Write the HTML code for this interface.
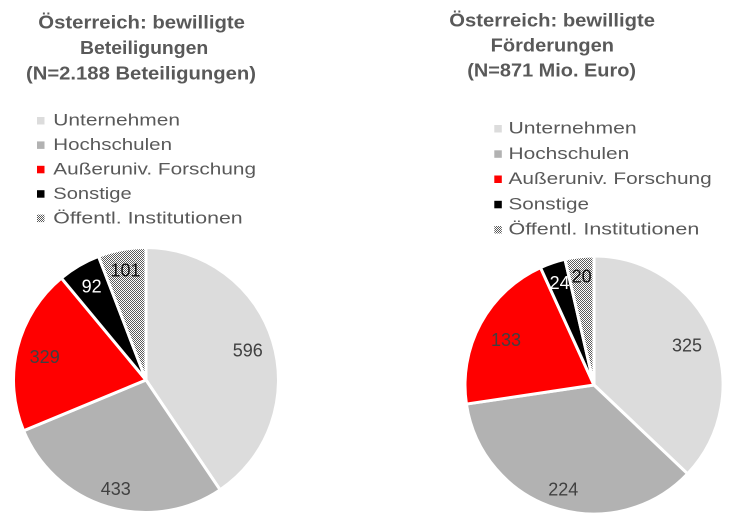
<!DOCTYPE html>
<html>
<head>
<meta charset="utf-8">
<style>
  html, body { margin: 0; padding: 0; background: #ffffff; }
  svg { display: block; }
  .t { font-family: "Liberation Sans", Arial, sans-serif; font-weight: bold; font-size: 18px; fill: #595959; }
  .l { font-family: "Liberation Sans", Arial, sans-serif; font-size: 17px; fill: #595959; }
  .v { font-family: "Liberation Sans", Arial, sans-serif; font-size: 18px; fill: #404040; text-anchor: middle; }
</style>
</head>
<body>
<svg width="750" height="528" viewBox="0 0 750 528" xmlns="http://www.w3.org/2000/svg">
  <defs>
    <pattern id="chk" width="2" height="2" patternUnits="userSpaceOnUse">
      <rect width="2" height="2" fill="#ffffff"/>
      <rect x="0" y="0" width="1" height="1" fill="#5a5a5a"/>
      <rect x="1" y="1" width="1" height="1" fill="#5a5a5a"/>
    </pattern>
  </defs>
  <rect width="750" height="528" fill="#ffffff"/>

  <!-- LEFT TITLE -->
  <text class="t" x="38.3" y="28.5" textLength="206.7" lengthAdjust="spacingAndGlyphs">Österreich: bewilligte</text>
  <text class="t" x="80" y="54" textLength="128.3" lengthAdjust="spacingAndGlyphs">Beteiligungen</text>
  <text class="t" x="26" y="79.5" textLength="230" lengthAdjust="spacingAndGlyphs">(N=2.188 Beteiligungen)</text>

  <!-- LEFT LEGEND -->
  <rect x="37" y="117" width="7.5" height="7.5" fill="#dcdcdc"/>
  <text class="l" x="53.3" y="125.7" textLength="126.7" lengthAdjust="spacingAndGlyphs">Unternehmen</text>
  <rect x="37" y="141.4" width="7.5" height="7.5" fill="#b2b2b2"/>
  <text class="l" x="53.3" y="150.1" textLength="118.7" lengthAdjust="spacingAndGlyphs">Hochschulen</text>
  <rect x="37" y="165.8" width="7.5" height="7.5" fill="#ff0000"/>
  <text class="l" x="53.3" y="174.5" textLength="202.7" lengthAdjust="spacingAndGlyphs">Außeruniv. Forschung</text>
  <rect x="37" y="190.2" width="7.5" height="7.5" fill="#000000"/>
  <text class="l" x="53.3" y="198.9" textLength="78.4" lengthAdjust="spacingAndGlyphs">Sonstige</text>
  <rect x="37" y="214.6" width="7.5" height="7.5" fill="url(#chk)"/>
  <text class="l" x="53.3" y="223.3" textLength="189.4" lengthAdjust="spacingAndGlyphs">Öffentl. Institutionen</text>

  <!-- LEFT PIE -->
  <g stroke="#ffffff" stroke-width="3" stroke-linejoin="round">
    <path d="M146,380 L146,247.5 A132.5,132.5 0 0 1 220.09,489.84 Z" fill="#dcdcdc"/>
    <path d="M146,380 L220.09,489.84 A132.5,132.5 0 0 1 23.59,430.71 Z" fill="#b2b2b2"/>
    <path d="M146,380 L23.59,430.71 A132.5,132.5 0 0 1 61.36,278.05 Z" fill="#ff0000"/>
    <path d="M146,380 L61.36,278.05 A132.5,132.5 0 0 1 98.51,256.30 Z" fill="#000000"/>
    <path d="M146,380 L98.51,256.30 A132.5,132.5 0 0 1 146,247.5 Z" fill="url(#chk)"/>
  </g>
  <text class="v" x="247.8" y="356.7">596</text>
  <text class="v" x="115.8" y="495">433</text>
  <text class="v" x="44.7" y="363">329</text>
  <text class="v" x="91.7" y="292.7" style="fill:#ffffff">92</text>
  <text class="v" x="125.5" y="276.7" style="fill:#111111">101</text>

  <!-- RIGHT TITLE -->
  <text class="t" x="449.3" y="26.5" textLength="205.7" lengthAdjust="spacingAndGlyphs">Österreich: bewilligte</text>
  <text class="t" x="490.7" y="51.5" textLength="123.3" lengthAdjust="spacingAndGlyphs">Förderungen</text>
  <text class="t" x="467.3" y="76.5" textLength="168.7" lengthAdjust="spacingAndGlyphs">(N=871 Mio. Euro)</text>

  <!-- RIGHT LEGEND -->
  <rect x="494.3" y="125" width="7.5" height="7.5" fill="#dcdcdc"/>
  <text class="l" x="508.5" y="133.5" textLength="128.2" lengthAdjust="spacingAndGlyphs">Unternehmen</text>
  <rect x="494.3" y="150.3" width="7.5" height="7.5" fill="#b2b2b2"/>
  <text class="l" x="508.5" y="158.8" textLength="120.8" lengthAdjust="spacingAndGlyphs">Hochschulen</text>
  <rect x="494.3" y="175.5" width="7.5" height="7.5" fill="#ff0000"/>
  <text class="l" x="508.5" y="184" textLength="203.2" lengthAdjust="spacingAndGlyphs">Außeruniv. Forschung</text>
  <rect x="494.3" y="200.8" width="7.5" height="7.5" fill="#000000"/>
  <text class="l" x="508.5" y="209.3" textLength="80.5" lengthAdjust="spacingAndGlyphs">Sonstige</text>
  <rect x="494.3" y="226" width="7.5" height="7.5" fill="url(#chk)"/>
  <text class="l" x="508.5" y="234.5" textLength="190.8" lengthAdjust="spacingAndGlyphs">Öffentl. Institutionen</text>

  <!-- RIGHT PIE -->
  <g stroke="#ffffff" stroke-width="3" stroke-linejoin="round">
    <path d="M594,385 L594,256 A129,129 0 0 1 687.58,473.80 Z" fill="#dcdcdc"/>
    <path d="M594,385 L687.58,473.80 A129,129 0 0 1 466.42,404.07 Z" fill="#b2b2b2"/>
    <path d="M594,385 L466.42,404.07 A129,129 0 0 1 540.50,267.61 Z" fill="#ff0000"/>
    <path d="M594,385 L540.50,267.61 A129,129 0 0 1 564.98,259.30 Z" fill="#000000"/>
    <path d="M594,385 L564.98,259.30 A129,129 0 0 1 594,256 Z" fill="url(#chk)"/>
  </g>
  <text class="v" x="687" y="351.7">325</text>
  <text class="v" x="563.3" y="495.7">224</text>
  <text class="v" x="506" y="346">133</text>
  <text class="v" x="559.7" y="289" style="fill:#ffffff">24</text>
  <text class="v" x="581.7" y="282.7" style="fill:#111111">20</text>
</svg>
</body>
</html>
